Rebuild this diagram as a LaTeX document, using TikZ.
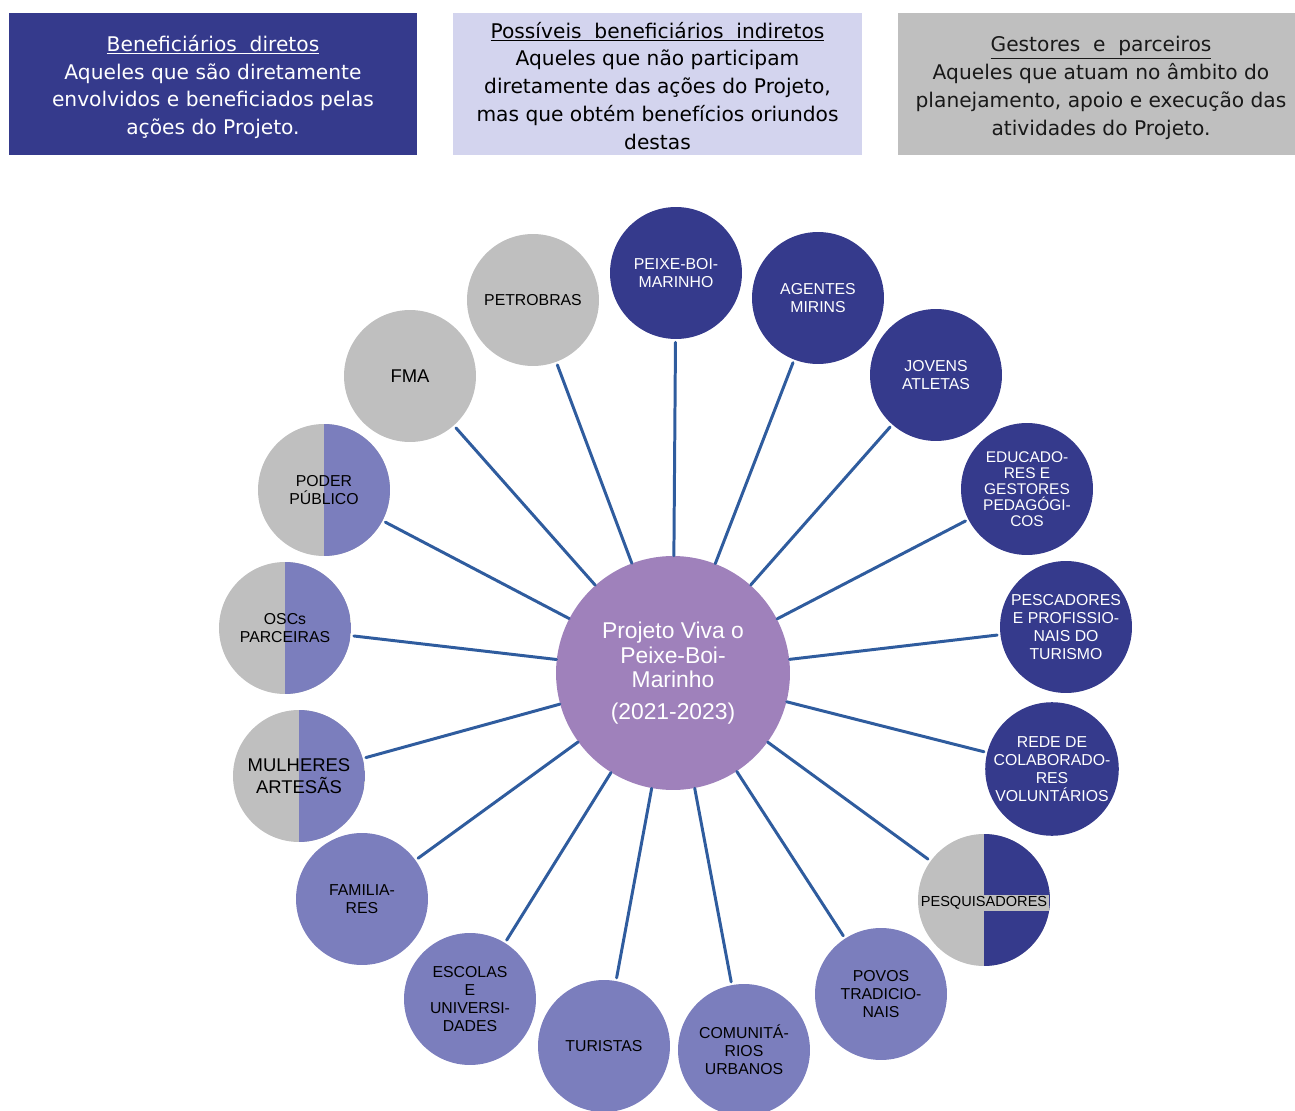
\documentclass[tikz,border=0pt]{standalone}
\usepackage{fontspec}
\setmainfont{Liberation Sans}
\newfontfamily\headfont{DejaVu Sans}
\usepackage{xcolor}
\usepackage{tikz}
\usetikzlibrary{positioning}

\definecolor{darkblue}{HTML}{353A8C}
\definecolor{midpurple}{HTML}{7B7EBD}
\definecolor{partnergray}{HTML}{BFBFBF}
\definecolor{centerlilac}{HTML}{9F81BB}
\definecolor{headlilac}{HTML}{D3D4EE}
\definecolor{spokeblue}{HTML}{2F5C9E}

\begin{document}
\begin{tikzpicture}[x=0.02cm, y=-0.02cm, line cap=round, line join=round,
    bubble/.style={circle, minimum size=2.64cm, inner sep=0pt, align=center,
        font=\fontsize{9}{10.3}\selectfont},
    direct/.style={bubble, fill=darkblue, text=white},
    indirect/.style={bubble, fill=midpurple, text=black},
    partner/.style={bubble, fill=partnergray, text=black},
    halfpartner/.style={partner, path picture={
        \fill[#1] (path picture bounding box.north) rectangle (path picture bounding box.south east);}},
    spoke/.style={draw=spokeblue, line width=1.7pt, shorten >=0.06cm},
    headbox/.style={minimum height=2.84cm, inner sep=0pt, align=center,
        font=\headfont\fontsize{11.5}{15.9}\selectfont}]
        \useasboundingbox (0,0) rectangle (1295,1111);

        % Header boxes
        \fill[darkblue] (9,13) rectangle (417,155);
        \fill[headlilac] (453,13) rectangle (862,155);
        \fill[partnergray] (898,13) rectangle (1302,155);
        \node[headbox, text=white] (hdirect) at (213,87)
            {\underline{Beneficiários\ \ diretos}\\Aqueles que são diretamente\\envolvidos e beneficiados pelas\\ações do Projeto.};
        \node[headbox, text=black] (hindirect) at (657.5,86)
            {\underline{Possíveis\ \ beneficiários\ \ indiretos}\\Aqueles que não participam\\diretamente das ações do Projeto,\\mas que obtém benefícios oriundos\\destas};
        \node[headbox, text=black!90] (hpartner) at (1101,88)
            {\underline{Gestores\ \ e\ \ parceiros}\\Aqueles que atuam no âmbito do\\planejamento, apoio e execução das\\atividades do Projeto.};

        % Center circle
        \node[bubble, minimum size=4.68cm, fill=centerlilac, text=white,
            font=\fontsize{13}{14}\selectfont] (proj) at (673,673)
            {Projeto Viva o\\Peixe-Boi-\\Marinho\\[4pt](2021-2023)};

        % Direct beneficiaries
        \node[direct] (peixe) at (676,273) {PEIXE-BOI-\\MARINHO};
        \node[direct] (agentes) at (818,298) {AGENTES\\MIRINS};
        \node[direct] (jovens) at (936,375) {JOVENS\\ATLETAS};
        \node[direct, font=\fontsize{8.8}{9.1}\selectfont] (educ) at (1027,489)
            {EDUCADO-\\RES E\\GESTORES\\PEDAGÓGI-\\COS};
        \node[direct] (pescad) at (1066,627) {PESCADORES\\E PROFISSIO-\\NAIS DO\\TURISMO};
        \node[direct] (rede) at (1052,769) {REDE DE\\COLABORADO-\\RES\\VOLUNTÁRIOS};
        \node[halfpartner=darkblue] (pesq) at (984,900) {};
        \node[fill=partnergray, inner sep=1pt, font=\fontsize{8.3}{9}\selectfont] (pesqtext) at (984,903) {PESQUISADORES};

        % Indirect beneficiaries
        \node[indirect] (povos) at (881,994) {POVOS\\TRADICIO-\\NAIS};
        \node[indirect] (comunit) at (744,1050) {COMUNITÁ-\\RIOS\\URBANOS};
        \node[indirect] (turistas) at (604,1046) {TURISTAS};
        \node[indirect] (escolas) at (470,999) {ESCOLAS\\E\\UNIVERSI-\\DADES};
        \node[indirect] (familia) at (362,899) {FAMILIA-\\RES};
        \node[halfpartner=midpurple, font=\fontsize{10.5}{12.5}\selectfont] (mulheres) at (299,776) {MULHERES\\ARTESÃS};
        \node[halfpartner=midpurple] (oscs) at (285,628) {OSCs\\PARCEIRAS};
        \node[halfpartner=midpurple] (poder) at (324,490) {PODER\\PÚBLICO};

        % Managers and partners
        \node[partner, font=\fontsize{10.5}{12.5}\selectfont] (fma) at (410,376) {FMA};
        \node[partner] (petro) at (533,300) {PETROBRAS};

        % Connect center with every circle
        \foreach \n in {peixe,agentes,jovens,educ,pescad,rede,pesq,povos,comunit,turistas,escolas,familia,mulheres,oscs,poder,fma,petro}
            \draw[spoke] (proj) -- (\n);
\end{tikzpicture}
\end{document}
